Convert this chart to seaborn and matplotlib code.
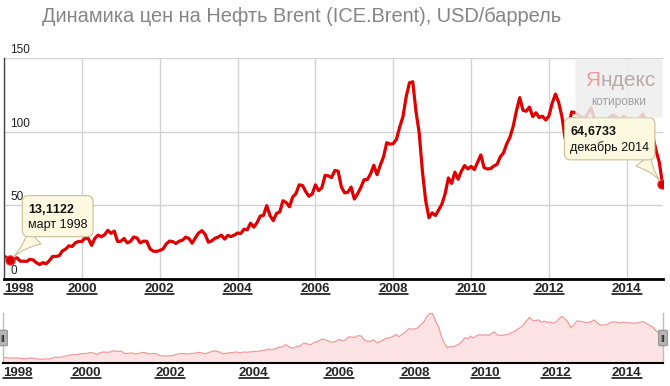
import numpy as np
import pandas as pd
import matplotlib.pyplot as plt
import seaborn as sns
from matplotlib.patches import FancyBboxPatch
from matplotlib.lines import Line2D

sns.set_style("white")
plt.rcParams['font.family'] = ['Liberation Sans', 'DejaVu Sans']
plt.rcParams['mathtext.fontset'] = 'custom'
plt.rcParams['mathtext.rm'] = 'Liberation Sans'
plt.rcParams['mathtext.bf'] = 'Liberation Sans:bold'

# Среднемесячные цены Brent, USD/баррель (янв..дек)
brent_1998 = [15.5, 14.3, 13.1, 13.4, 14.4, 12.1, 12.1, 11.9, 13.4, 12.9, 11.0, 9.8]
brent_1999 = [11.1, 10.3, 12.5, 15.3, 15.3, 15.8, 19.1, 20.3, 22.5, 22.1, 24.6, 25.5]
brent_2000 = [25.5, 27.8, 27.4, 22.8, 27.6, 29.8, 28.7, 30.0, 33.0, 31.0, 32.5, 25.5]
brent_2001 = [25.6, 27.5, 24.5, 25.6, 28.5, 27.8, 24.5, 25.7, 25.6, 20.5, 18.9, 18.7]
brent_2002 = [19.4, 20.3, 23.7, 25.7, 25.4, 24.1, 25.7, 26.3, 28.4, 27.5, 24.3, 28.0]
brent_2003 = [31.2, 32.8, 30.3, 25.0, 25.8, 27.6, 28.4, 29.8, 27.1, 29.6, 28.8, 29.8]
brent_2004 = [31.2, 30.9, 33.8, 33.4, 37.9, 35.2, 38.2, 42.7, 43.2, 49.8, 43.1, 39.6]
brent_2005 = [44.5, 45.5, 53.1, 51.9, 49.0, 55.6, 57.9, 63.9, 63.5, 59.4, 56.2, 57.6]
brent_2006 = [63.9, 60.0, 62.0, 70.4, 70.0, 68.9, 73.7, 73.2, 62.5, 58.5, 58.8, 62.4]
brent_2007 = [54.3, 57.8, 62.1, 67.4, 67.5, 71.3, 77.2, 70.8, 77.2, 82.9, 92.5, 91.5]
brent_2008 = [91.9, 94.8, 103.3, 110.2, 123.9, 133.1, 133.9, 113.9, 99.1, 72.8, 53.2, 41.6]
brent_2009 = [44.9, 43.1, 46.8, 50.9, 57.9, 68.6, 64.9, 72.5, 67.7, 73.2, 77.0, 74.7]
brent_2010 = [76.4, 74.3, 79.3, 84.2, 75.6, 74.7, 74.9, 76.7, 77.8, 82.9, 85.7, 91.8]
brent_2011 = [96.3, 103.9, 114.4, 123.1, 114.5, 113.9, 116.7, 110.2, 112.8, 109.6, 110.5, 107.9]
brent_2012 = [110.7, 119.3, 125.5, 119.8, 110.3, 95.2, 102.6, 113.4, 113.0, 111.5, 109.5, 109.2]
brent_2013 = [112.3, 116.1, 108.5, 102.3, 102.6, 102.9, 107.4, 110.3, 111.2, 109.5, 107.8, 110.6]
brent_2014 = [108.1, 108.9, 107.5, 107.8, 109.5, 111.9, 106.9, 101.9, 97.3, 87.3, 79.4, 64.6733]

prices = np.concatenate([brent_1998, brent_1999, brent_2000, brent_2001, brent_2002,
                         brent_2003, brent_2004, brent_2005, brent_2006, brent_2007,
                         brent_2008, brent_2009, brent_2010, brent_2011, brent_2012,
                         brent_2013, brent_2014])
first_year = 1998
year_ticks = list(range(1998, 2015, 2))
y_ticks = [0, 50, 100, 150]

title = 'Динамика цен на Нефть Brent (ICE.Brent), USD/баррель'
tip_start = ('13,1122', 'март 1998')
tip_end = ('64,6733', 'декабрь 2014')

# шкала навигатора неравномерная (годы -> доля ширины)
nav_years = [1998, 2000, 2002, 2004, 2006, 2008, 2010, 2012, 2014, 2014.93]
nav_pos = [0.0, 0.126, 0.253, 0.380, 0.509, 0.624, 0.731, 0.838, 0.945, 1.0]

df = pd.DataFrame({'год': first_year + np.arange(len(prices)) / 12, 'цена': prices})
df['nav_x'] = np.interp(df['год'], nav_years, nav_pos)

W, H = 670, 386
fig = plt.figure(figsize=(W / 100, H / 100), dpi=100)

# --------------------------------------------
# Основной график
# --------------------------------------------
ax = fig.add_axes([4 / W, 107 / H, 659 / W, 221 / H])
sns.lineplot(data=df, x='год', y='цена', ax=ax, color='#e00000', lw=2.3)
marks = df.iloc[[2, len(df) - 1]]
sns.scatterplot(data=marks, x='год', y='цена', ax=ax, color='#d00000', s=45,
                edgecolor='#ff3030', linewidth=0.8, zorder=5)

ax.set_xlim(1998, 2014.93)
ax.set_ylim(0, 150)
ax.set_xlabel('')
ax.set_ylabel('')
ax.set_yticks(y_ticks)
ax.set_yticklabels([])
ax.set_xticks(year_ticks)
ax.set_xticklabels([str(y) for y in year_ticks], fontsize=9.5, fontweight='bold')
ax.get_xticklabels()[0].set_ha('left')
ax.tick_params(length=0)
ax.tick_params(axis='x', pad=3)
ax.grid(True, color='#d2d2d2', lw=1)
for s in ['top', 'right']:
    ax.spines[s].set_visible(False)
ax.spines['left'].set_color('#444444')
ax.spines['left'].set_linewidth(1)
ax.spines['bottom'].set_color('black')
ax.spines['bottom'].set_linewidth(2)

for v in y_ticks:
    ax.annotate(str(v), xy=(0, v), xycoords=ax.get_yaxis_transform(),
                xytext=(4.5, 1.5), textcoords='offset points',
                fontsize=8.5, va='bottom', ha='left', color='#222222')

# подсказки
cream = '#fdf9e1'
border = '#cbbf95'
for (val, lbl), row, off, rel in [(tip_start, marks.iloc[0], (34, 31), (0.22, 0.0)),
                                  (tip_end, marks.iloc[1], (-38, 32), (0.86, 0.0))]:
    ax.annotate(rf'$\mathbf{{{val.replace(",", "{,}")}}}$' + '\n' + lbl,
                xy=(row['год'], row['цена']), xytext=off, textcoords='offset points',
                fontsize=9, ha='center', va='center', multialignment='left',
                color='#111111', zorder=6,
                bbox=dict(boxstyle='round,pad=0.45,rounding_size=0.5', fc=cream, ec=border, lw=0.8),
                arrowprops=dict(arrowstyle='wedge,tail_width=1.5,shrink_factor=0.3',
                                fc=cream, ec=border, lw=0.8, relpos=rel,
                                shrinkA=0, shrinkB=3))

# водяной знак
fig.patches.append(FancyBboxPatch((578 / W, 1 - 116 / H), 82 / W, 55 / H,
                                  boxstyle='round,pad=0.004', transform=fig.transFigure,
                                  fc='#eeeeee', ec='none', alpha=0.85, zorder=4))
fig.text(600 / W, 1 - 80 / H, 'Я', fontsize=15, color='#ee9a9a', ha='right', va='center', zorder=5)
fig.text(600 / W, 1 - 80 / H, 'ндекс', fontsize=15, color='#b9a9a9', ha='left', va='center', zorder=5)
fig.text(619 / W, 1 - 102 / H, 'котировки', fontsize=8.5, color='#a0a0a0', ha='center', va='center', zorder=5)

fig.text(42 / W, 1 - 16 / H, title, fontsize=14.4, color='#858585', ha='left', va='center')

# --------------------------------------------
# Навигатор
# --------------------------------------------
axn = fig.add_axes([3 / W, 23 / H, 660 / W, 50 / H])
axn.fill_between(df['nav_x'], df['цена'], color='#fde3e3', lw=0)
sns.lineplot(data=df, x='nav_x', y='цена', ax=axn, color='#f29a9a', lw=0.9)
axn.set_xlim(0, 1)
axn.set_ylim(0, 135)
axn.set_xlabel('')
axn.set_ylabel('')
axn.set_yticks([])
axn.set_xticks(np.interp(year_ticks, nav_years, nav_pos))
axn.set_xticklabels([str(y) for y in year_ticks], fontsize=9.5, fontweight='bold')
axn.get_xticklabels()[0].set_ha('left')
axn.tick_params(length=0, pad=3)
axn.spines['top'].set_visible(False)
axn.spines['bottom'].set_color('black')
axn.spines['bottom'].set_linewidth(1.5)
for s in ['left', 'right']:
    axn.spines[s].set_color('#bdbdbd')
    axn.spines[s].set_linewidth(1)

for hx in [0, 660]:
    fig.patches.append(FancyBboxPatch(((hx + 3 - 3) / W, 1 - 345 / H), 6 / W, 14 / H,
                                      boxstyle='round,pad=0.002', transform=fig.transFigure,
                                      fc='#b5b5b5', ec='#8a8a8a', lw=0.7, zorder=6))
    fig.text((hx + 3) / W, 1 - 338 / H, '||', fontsize=6, color='#333333',
             ha='center', va='center', zorder=7, fontweight='bold')

# подчёркивание подписей лет
fig.canvas.draw()
for lab in ax.get_xticklabels() + axn.get_xticklabels():
    bb = lab.get_window_extent()
    yl = (bb.y0 + 1.5) / H
    fig.add_artist(Line2D([bb.x0 / W, bb.x1 / W], [yl, yl], color='black', lw=1.1))

plt.savefig('out.png', dpi=100, facecolor='white')
plt.close()
